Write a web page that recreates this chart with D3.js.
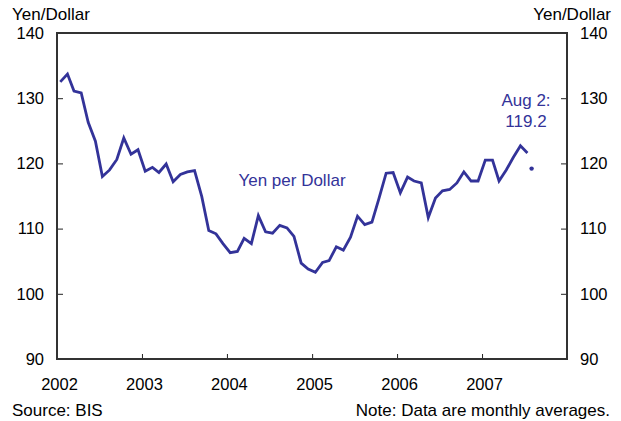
<!DOCTYPE html>
<html>
<head>
<meta charset="utf-8">
<script src="https://cdn.jsdelivr.net/npm/d3@7"></script>
<style>
  body { margin: 0; background: #fff; }
  text { font-family: "Liberation Sans", Arial, sans-serif; }
</style>
</head>
<body>
<div id="graph1"></div>
<script>
// monthly averages, Jan 2002 .. Jul 2007
var startYear = 2002;
var yenPerDollar = [
    132.5, 133.7, 131.1, 130.8, 126.3, 123.4, 118.0, 119.0, 120.6, 123.9, 121.4, 122.1,
    118.8, 119.4, 118.6, 119.9, 117.2, 118.3, 118.7, 118.9, 114.9, 109.7, 109.2, 107.7,
    106.3, 106.5, 108.5, 107.7, 112.0, 109.5, 109.3, 110.5, 110.1, 108.8, 104.7, 103.8,
    103.3, 104.8, 105.1, 107.2, 106.7, 108.7, 111.9, 110.6, 111.0, 114.6, 118.5, 118.6,
    115.5, 117.9, 117.3, 117.0, 111.7, 114.7, 115.8, 116.0, 117.0, 118.7, 117.3, 117.3,
    120.5, 120.5, 117.3, 119.0, 120.9, 122.7, 121.6
];
var latestDate = "2007-08-02";
var latestValue = 119.2;
var yearTicks = [2002, 2003, 2004, 2005, 2006, 2007];
var yTicks = [90, 100, 110, 120, 130, 140];
var yDomain = [90, 140];

var w = 621;
var h = 421;
var margin = { top: 33, bottom: 62, left: 57, right: 54 };
var width = w - margin.left - margin.right;
var height = h - margin.top - margin.bottom;
var blue = "#333399";
var fontSize = "17px";
var tickFont = "16.5px";

var svg = d3.select("#graph1").append("svg")
    .attr("width", w)
    .attr("height", h);
var chart = svg.append("g")
    .attr("transform", "translate(" + margin.left + "," + margin.top + ")");

var parseDate = d3.timeParse("%Y-%m-%d");
var data = yenPerDollar.map(function(v, i){
    return { date: new Date(startYear, i, 15), value: v };
});

var x = d3.scaleTime()
    .domain([new Date(2002, 0, 1), new Date(2008, 0, 1)])
    .range([0, width]);
var y = d3.scaleLinear()
    .domain(yDomain)
    .range([height, 0]);

var xAxis = d3.axisBottom(x)
    .tickValues(yearTicks.map(function(yr){ return new Date(yr, 0, 1); }))
    .tickFormat(d3.timeFormat("%Y"))
    .tickSize(-5)
    .tickPadding(19);
var yLeft = d3.axisLeft(y).tickValues(yTicks).tickSize(-6).tickPadding(13);
var yRight = d3.axisRight(y).tickValues(yTicks).tickSize(-6).tickPadding(13);

function styleAxis(g){
    g.select(".domain").remove();
    g.selectAll("line").attr("stroke", "#222").attr("stroke-width", 1);
    g.selectAll("text")
        .style("font-size", tickFont)
        .attr("fill", "#000");
}

chart.append("g")
    .attr("transform", "translate(0," + height + ")")
    .call(xAxis)
    .call(styleAxis)
    .selectAll("text").attr("dx", 2);
chart.append("g").call(yLeft).call(styleAxis);
chart.append("g")
    .attr("transform", "translate(" + width + ",0)")
    .call(yRight).call(styleAxis);

// frame
chart.append("rect")
    .attr("x", 0).attr("y", 0)
    .attr("width", width).attr("height", height)
    .attr("fill", "none")
    .attr("stroke", "#333")
    .attr("stroke-width", 2);

var line = d3.line()
    .x(function(d){ return x(d.date); })
    .y(function(d){ return y(d.value); });

chart.append("path")
    .datum(data)
    .attr("d", line)
    .attr("fill", "none")
    .attr("stroke", blue)
    .attr("stroke-width", 2.8)
    .attr("stroke-linejoin", "miter");

chart.append("circle")
    .attr("cx", x(parseDate(latestDate)))
    .attr("cy", y(latestValue))
    .attr("r", 2.2)
    .attr("fill", blue);

// labels
svg.append("text").attr("x", 12).attr("y", 19.5)
    .style("font-size", fontSize).text("Yen/Dollar");
svg.append("text").attr("x", 611).attr("y", 19.5)
    .attr("text-anchor", "end")
    .style("font-size", fontSize).text("Yen/Dollar");
svg.append("text").attr("x", 12).attr("y", 416)
    .style("font-size", fontSize).text("Source: BIS");
svg.append("text").attr("x", 610).attr("y", 416)
    .attr("text-anchor", "end")
    .style("font-size", fontSize).text("Note: Data are monthly averages.");

svg.append("text").attr("x", 292).attr("y", 186)
    .attr("text-anchor", "middle")
    .attr("fill", blue)
    .style("font-size", fontSize).text("Yen per Dollar");
svg.append("text").attr("x", 526).attr("y", 106)
    .attr("text-anchor", "middle")
    .attr("fill", blue)
    .style("font-size", fontSize).text("Aug 2:");
svg.append("text").attr("x", 526).attr("y", 127)
    .attr("text-anchor", "middle")
    .attr("fill", blue)
    .style("font-size", fontSize).text(latestValue.toFixed(1));
</script>
</body>
</html>
